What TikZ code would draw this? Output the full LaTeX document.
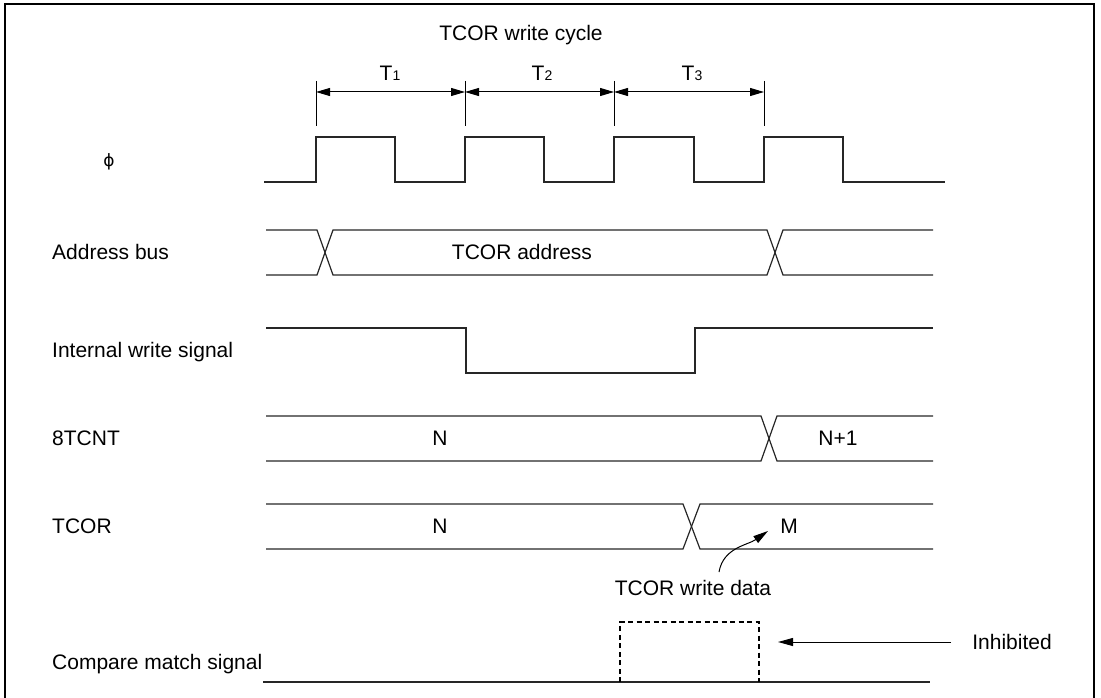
\documentclass[tikz,border=0pt]{standalone}
\usepackage{fontspec}
\setmainfont{Liberation Sans}
\newfontfamily\dvs{DejaVu Sans}
\usetikzlibrary{arrows.meta}
\newcommand{\Tsub}[1]{T{\fontsize{14}{14}\selectfont #1}}
\begin{document}
\begin{tikzpicture}[x=1pt,y=-1pt,
  wave/.style={line width=1.2pt, line join=miter, draw=black!85},
  lbl/.style={anchor=west, inner sep=0pt, text height=15pt, text depth=0pt, font=\fontsize{21}{25}\selectfont},
  txt/.style={inner sep=0pt, text height=15pt, text depth=0pt, font=\fontsize{21}{25}\selectfont},
  dimarrow/.style={line width=1pt, {Triangle[length=14pt,width=8pt]}-{Triangle[length=14pt,width=8pt]}},
  ptr/.style={line width=1pt, -{Triangle[length=15pt,width=8pt]}},
  tick/.style={line width=1pt},
  inhib/.style={line width=1.1pt, dash pattern=on 5pt off 3.5pt},
]
\useasboundingbox (0,0) rectangle (1101,698);
\draw[line width=1.4pt] (5,698) -- (5,4) -- (1094,4) -- (1094,698);

% title and period labels
\node[txt] (title) at (521,33) {TCOR write cycle};
\node[txt] (tA) at (390,73) {\Tsub{1}};
\node[txt] (tB) at (542,73) {\Tsub{2}};
\node[txt] (tC) at (692,73) {\Tsub{3}};

% ticks and dimension arrows
\foreach \x/\n in {316/1,465/2,614/3,764/4}{
  \draw[tick] (\x,81) -- (\x,126);
  \coordinate (k\n) at (\x,92);
}
\draw[dimarrow] (k1) -- (k2);
\draw[dimarrow] (k2) -- (k3);
\draw[dimarrow] (k3) -- (k4);

% signal labels
\node[inner sep=0pt, font=\dvs\fontsize{17}{20}\selectfont] (phi) at (109,162) {ϕ};
\node[lbl] (lab) at (52,252) {Address bus};
\node[lbl] (liw) at (52,350) {Internal write signal};
\node[lbl] (lcnt) at (52,438) {8TCNT};
\node[lbl] (lcor) at (52,526) {TCOR};
\node[lbl] (lcm) at (52,662) {Compare match signal};

% clock
\draw[wave] (264,182) -- (316,182) -- (316,137) -- (395,137) -- (395,182)
  -- (465,182) -- (465,137) -- (544,137) -- (544,182)
  -- (614,182) -- (614,137) -- (694,137) -- (694,182)
  -- (764,182) -- (764,137) -- (843,137) -- (843,182) -- (945,182);

% address bus
\draw[wave] (266,230) -- (317,230) -- (333,275) -- (767,275) -- (783,230) -- (933,230);
\draw[wave] (266,275) -- (317,275) -- (333,230) -- (767,230) -- (783,275) -- (933,275);
\node[txt] (addr) at (522,252) {TCOR address};

% internal write signal
\draw[wave] (266,328) -- (466,328) -- (466,373) -- (695,373) -- (695,328) -- (933,328);

% 8TCNT
\draw[wave] (266,416) -- (761,416) -- (777,461) -- (933,461);
\draw[wave] (266,461) -- (761,461) -- (777,416) -- (933,416);
\node[txt] (cntN) at (440,438) {N};
\node[txt] (cntN1) at (838,438) {N+1};

% TCOR
\draw[wave] (266,504) -- (683,504) -- (700,549) -- (933,549);
\draw[wave] (266,549) -- (683,549) -- (700,504) -- (933,504);
\node[txt] (corN) at (440,526) {N};
\node[txt] (corM) at (789,526) {M};

% TCOR write data pointer
\node[txt] (wd) at (693,588) {TCOR write data};
\coordinate (ws) at (719,572);
\coordinate (wt) at (768,531);
\draw[ptr] (ws) to[out=80,in=215] (wt);

% compare match signal
\draw[wave] (263,682) -- (930,682);
\draw[inhib] (620,682) -- (620,622) -- (759,622) -- (759,682);
\node[txt] (inh) at (1012,642) {Inhibited};
\coordinate (ie) at (778,642);
\draw[ptr, shorten <=21pt] (inh.west) -- (ie);
\end{tikzpicture}
\end{document}
